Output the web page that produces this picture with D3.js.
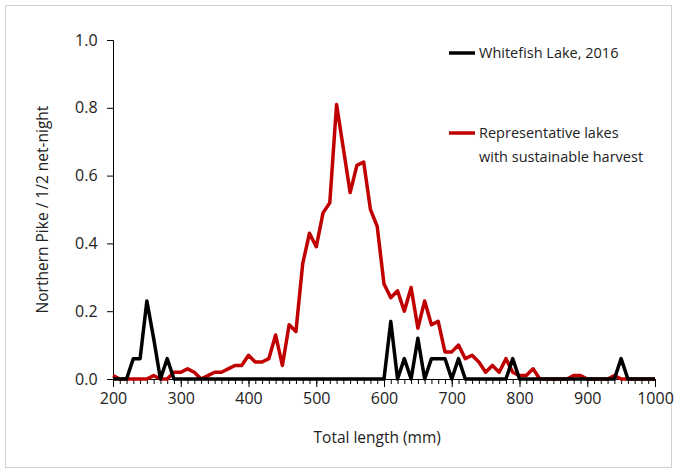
<!DOCTYPE html>
<html><head><meta charset="utf-8">
<script src="https://cdn.jsdelivr.net/npm/d3@7"></script>
<style>body{margin:0;background:#fff;font-family:"Open Sans",sans-serif}</style>
</head><body><div id="chart"></div>
<script>
// lengths in 10 mm bins, 200..1000
var lengths = d3.range(200, 1001, 10);
var whitefish = [0,0,0,0.06,0.06,0.23,0.12,0,0.06,0,
  0,0,0,0,0,0,0,0,0,0,
  0,0,0,0,0,0,0,0,0,0,
  0,0,0,0,0,0,0,0,0,0,
  0,0.17,0,0.06,0,0.12,0,0.06,0.06,0.06,
  0,0.06,0,0,0,0,0,0,0,0.06,
  0,0,0,0,0,0,0,0,0,0,
  0,0,0,0,0,0.06,0,0,0,0,0];
var representative = [0.01,0,0,0,0,0,0.01,0,0,0.02,
  0.02,0.03,0.02,0,0.01,0.02,0.02,0.03,0.04,0.04,
  0.07,0.05,0.05,0.06,0.13,0.04,0.16,0.14,0.34,0.43,
  0.39,0.49,0.52,0.81,0.68,0.55,0.63,0.64,0.5,0.45,
  0.28,0.24,0.26,0.2,0.27,0.15,0.23,0.16,0.17,0.08,
  0.08,0.1,0.06,0.07,0.05,0.02,0.04,0.02,0.06,0.02,
  0.01,0.01,0.03,0,0,0,0,0,0.01,0.01,
  0,0,0,0,0.01,0,0,0,0,0,0];
var seriesNames = ["Whitefish Lake, 2016", "Representative lakes|with sustainable harvest"];
var seriesColors = ["#000000", "#c00000"];
var xTicks = d3.range(200, 1001, 100);
var yTicks = [0, 0.2, 0.4, 0.6, 0.8, 1.0];

var W = 680, H = 472;
var svg = d3.select("#chart").append("svg").attr("width", W).attr("height", H);
svg.append("rect").attr("x", 5.5).attr("y", 5.5).attr("width", 666).attr("height", 462)
  .attr("fill", "none").attr("stroke", "#d0d0d0");

var x = d3.scaleLinear().domain([200, 1000]).range([113, 655]);
var y = d3.scaleLinear().domain([0, 1]).range([379, 40]);

// axes
var gx = svg.append("g").attr("transform", "translate(0," + y(0) + ")");
gx.call(d3.axisBottom(x).tickValues(d3.range(200, 1001, 10)).tickSize(5).tickFormat(""));
gx.append("g").call(d3.axisBottom(x).tickValues(xTicks).tickSize(8).tickFormat(d3.format("d")));
gx.selectAll("path,line").attr("stroke", "#000");
gx.selectAll("text").attr("font-size", 16).attr("fill", "#222").attr("dy", "0.85em").attr("font-family", "Open Sans");

var gy = svg.append("g").attr("transform", "translate(" + x(200) + ",0)");
gy.call(d3.axisLeft(y).tickValues(yTicks).tickSize(6).tickFormat(d3.format(".1f")));
gy.selectAll("path,line").attr("stroke", "#000");
gy.selectAll("text").attr("font-size", 16).attr("fill", "#222").attr("dx", "-0.4em").attr("font-family", "Open Sans");

svg.append("text").attr("x", x(590)).attr("y", 443).attr("text-anchor", "middle")
  .attr("font-size", 15.5).attr("fill", "#222").text("Total length (mm)");
svg.append("text").attr("transform", "translate(48," + y(0.5) + ") rotate(-90)")
  .attr("text-anchor", "middle").attr("font-size", 15.5).attr("fill", "#222")
  .text("Northern Pike / 1/2 net-night");

var line = d3.line().x(function(d, i) { return x(lengths[i]); }).y(function(d) { return y(d); });
[representative, whitefish].forEach(function(s, k) {
  svg.append("path").datum(s).attr("d", line).attr("fill", "none")
    .attr("stroke", seriesColors[1 - k]).attr("stroke-width", 3.5).attr("stroke-linejoin", "round");
});

// legend
var legY = [53, 133];
seriesNames.forEach(function(n, i) {
  svg.append("line").attr("x1", 449).attr("x2", 475).attr("y1", legY[i]).attr("y2", legY[i])
    .attr("stroke", seriesColors[i]).attr("stroke-width", 3.5);
  n.split("|").forEach(function(t, j) {
    svg.append("text").attr("x", 479).attr("y", legY[i] + 5 + j * 24)
      .attr("font-size", 14.5).attr("fill", "#222").text(t);
  });
});
</script></body></html>
